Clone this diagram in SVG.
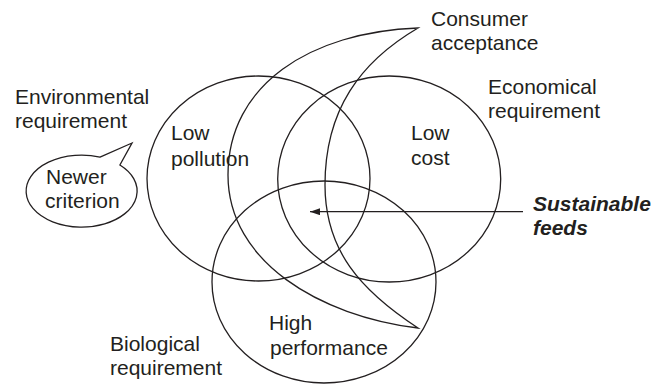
<svg xmlns="http://www.w3.org/2000/svg" width="663" height="385" viewBox="0 0 663 385">
<style>
.shape{fill:none;stroke:#231f20;stroke-width:1.3;stroke-linejoin:miter;stroke-miterlimit:12}
.lbl{font-family:"Liberation Sans",Arial,Helvetica,sans-serif;font-size:21px;fill:#231f20}
.bi{font-weight:bold;font-style:italic}
.conn{fill:none;stroke:#231f20;stroke-width:1.2}
</style>
<defs>
<marker id="ah" markerUnits="userSpaceOnUse" markerWidth="11" markerHeight="7" refX="10" refY="3.5" orient="auto">
<path d="M0,0 L10,3.5 L0,7 z" fill="#231f20"/>
</marker>
</defs>
<rect width="663" height="385" fill="#fff"/>
<g id="environmental">
<ellipse class="shape" cx="258.5" cy="178.5" rx="111.5" ry="102.5"/>
<text class="lbl" x="15" y="104">Environmental</text>
<text class="lbl" x="15" y="128">requirement</text>
<text class="lbl" x="171" y="140">Low</text>
<text class="lbl" x="171" y="166">pollution</text>
</g>
<g id="economical">
<ellipse class="shape" cx="389.2" cy="179" rx="111.5" ry="103"/>
<text class="lbl" x="488" y="94">Economical</text>
<text class="lbl" x="488" y="118">requirement</text>
<text class="lbl" x="411" y="140">Low</text>
<text class="lbl" x="411" y="165">cost</text>
</g>
<g id="biological">
<ellipse class="shape" cx="324" cy="282" rx="112" ry="101"/>
<text class="lbl" x="110" y="351">Biological</text>
<text class="lbl" x="110" y="375">requirement</text>
<text class="lbl" x="269" y="330">High</text>
<text class="lbl" x="270" y="355">performance</text>
</g>
<g id="consumer">
<path class="shape" d="M418,28 C310,32 228,85 228,175 C228,262 320,316 418,328 C360,290 325,250 325,185 C325,110 360,62 418,28 Z"/>
<text class="lbl" x="431" y="26">Consumer</text>
<text class="lbl" x="431" y="50">acceptance</text>
</g>
<g id="newer">
<path class="shape" d="M100,157.1 L132,143 L119.9,165 A55.5,36 0 1 1 100,157.1 Z"/>
<text class="lbl" x="46" y="184">Newer</text>
<text class="lbl" x="45" y="208">criterion</text>
</g>
<g id="sustainable">
<text class="lbl bi" x="533" y="211">Sustainable</text>
<text class="lbl bi" x="533" y="235">feeds</text>
</g>
<g id="connectors">
<line class="conn" x1="523" y1="211.7" x2="310" y2="211.7" marker-end="url(#ah)"/>
</g>
</svg>
